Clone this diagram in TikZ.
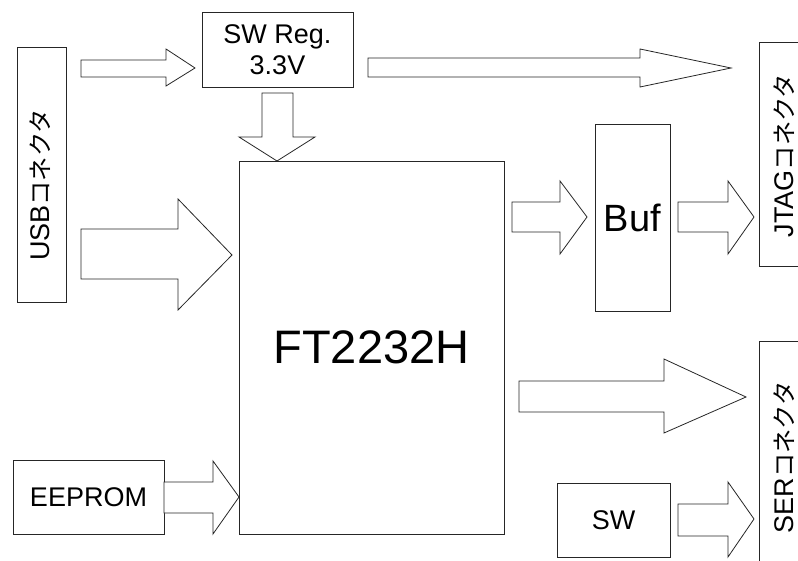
\documentclass[tikz,border=0pt]{standalone}
\usepackage{fontspec}
\setmainfont{Liberation Sans}
\newfontfamily\cjk{Noto Sans CJK JP}[Scale=0.9]
\begin{document}
\begin{tikzpicture}[x=1pt,y=-1pt,
  box/.style={draw=black!85, line width=0.8pt, fill=white, inner sep=0pt, rectangle},
  txt/.style={font=\fontsize{27}{31}\selectfont},
  vlabel/.style={rotate=90, anchor=base, inner sep=0pt, font=\fontsize{27}{31}\selectfont},
  blockarrow/.style={draw=black!85, line width=0.8pt, fill=white, line join=miter}]
\useasboundingbox (0,0) rectangle (798,561);
\clip (0,0) rectangle (798,561);
% boxes
\node[box, minimum width=49pt, minimum height=255pt] (usb) at (41.5,174.5) {};
\node[box, minimum width=151pt, minimum height=75pt, txt, align=center] (reg) at (277.5,49.5) {SW Reg.\\3.3V};
\node[box, minimum width=265pt, minimum height=373pt, font=\fontsize{47}{50}\selectfont] (ft) at (371.5,347.5) {FT2232H};
\node[box, minimum width=75pt, minimum height=187pt, font=\fontsize{38}{40}\selectfont] (buf) at (632.5,217.5) {Buf};
\node[box, minimum width=80pt, minimum height=224pt] (jtag) at (799,154) {};
\node[box, minimum width=80pt, minimum height=260pt] (ser) at (799,471) {};
\node[box, minimum width=151pt, minimum height=74pt, txt] (eeprom) at (88.5,497) {EEPROM};
\node[box, minimum width=113pt, minimum height=74pt, txt] (sw) at (613.5,520) {SW};
% rotated labels
\node[vlabel] (usbl) at (49,185) {USB{\cjk コネクタ}};
\node[vlabel] (jtagl) at (793,155.5) {JTAG{\cjk コネクタ}};
\node[vlabel] (serl) at (793,457.5) {SER{\cjk コネクタ}};
% block arrows
% USB -> SW Reg
\draw[blockarrow] (81,60) -- (166,60) -- (166,49) -- (195,68) -- (166,86) -- (166,77) -- (81,77) -- cycle;
% SW Reg -> JTAG
\draw[blockarrow] (368,58) -- (640,58) -- (640,49) -- (731,68) -- (640,87) -- (640,77) -- (368,77) -- cycle;
% SW Reg -> FT2232H (down)
\draw[blockarrow] (262,93) -- (293,93) -- (293,137) -- (315,137) -- (277,161) -- (239,137) -- (262,137) -- cycle;
% USB -> FT2232H
\draw[blockarrow] (81,229) -- (178,229) -- (178,199) -- (232,255) -- (178,310) -- (178,279) -- (81,279) -- cycle;
% FT2232H -> Buf
\draw[blockarrow] (512,202) -- (560,202) -- (560,181) -- (587,217) -- (560,254) -- (560,232) -- (512,232) -- cycle;
% Buf -> JTAG
\draw[blockarrow] (678,202) -- (728,202) -- (728,181) -- (754,217) -- (728,254) -- (728,232) -- (678,232) -- cycle;
% FT2232H -> SER
\draw[blockarrow] (519,381) -- (664,381) -- (664,359) -- (746,397) -- (664,433) -- (664,412) -- (519,412) -- cycle;
% EEPROM -> FT2232H
\draw[blockarrow] (164,482) -- (213,482) -- (213,461) -- (239,497) -- (213,534) -- (213,513) -- (164,513) -- cycle;
% SW -> SER
\draw[blockarrow] (678,504) -- (728,504) -- (728,482) -- (754,519) -- (728,557) -- (728,536) -- (678,536) -- cycle;
\end{tikzpicture}
\end{document}
